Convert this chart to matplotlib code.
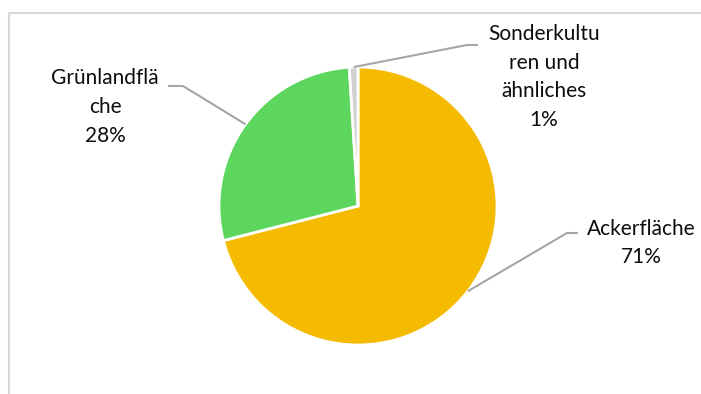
import numpy as np
import matplotlib.pyplot as plt

labels = ["Ackerfläche", "Grünlandflä\nche", "Sonderkultu\nren und\nähnliches"]
shares = [71, 28, 1]
colors = ["#F5BB00", "#5CD65C", "#D0D0D0"]

W, H = 701, 394
fig = plt.figure(figsize=(W / 100, H / 100), dpi=100)
ax = fig.add_axes([0, 0, 1, 1])

cx, cy, r = 358, H - 206, 139
wedges, _ = ax.pie(shares, colors=colors, startangle=90, counterclock=False,
                   center=(cx, cy), radius=r, explode=[0.02, 0, 0],
                   wedgeprops=dict(edgecolor="white", linewidth=2))

# pie() resets the limits, so set the pixel frame afterwards
ax.set_xlim(0, W)
ax.set_ylim(0, H)
ax.set_aspect("equal")
ax.axis("off")

# chart frame (only left and top edges visible)
ax.plot([9, 9, W + 5], [-5, H - 13, H - 13], color="#D9D9D9", lw=1.5, clip_on=False)

# label layout: elbow point, end of horizontal, text anchor
layout = [
    ((567, 233), (578, 233), (641, 243), "center"),
    ((183, 86), (168, 86), (105, 107), "center"),
    ((467, 45), (478, 45), (544, 77), "center"),
]
line_col = "#A6A6A6"
for w, s, lab, (elbow, end, txt, ha) in zip(wedges, shares, labels, layout):
    mid = np.deg2rad((w.theta1 + w.theta2) / 2)
    x0 = w.center[0] + w.r * np.cos(mid)
    y0 = w.center[1] + w.r * np.sin(mid)
    ax.plot([x0, elbow[0], end[0]], [y0, H - elbow[1], H - end[1]],
            color=line_col, lw=1.5, solid_capstyle="butt")
    ax.text(txt[0], H - txt[1], f"{lab}\n{s}%", ha=ha, va="center",
            fontsize=15, family="Lato", color="#0d0d0d", linespacing=1.55)

fig.savefig("out.png", dpi=100, facecolor="white")
